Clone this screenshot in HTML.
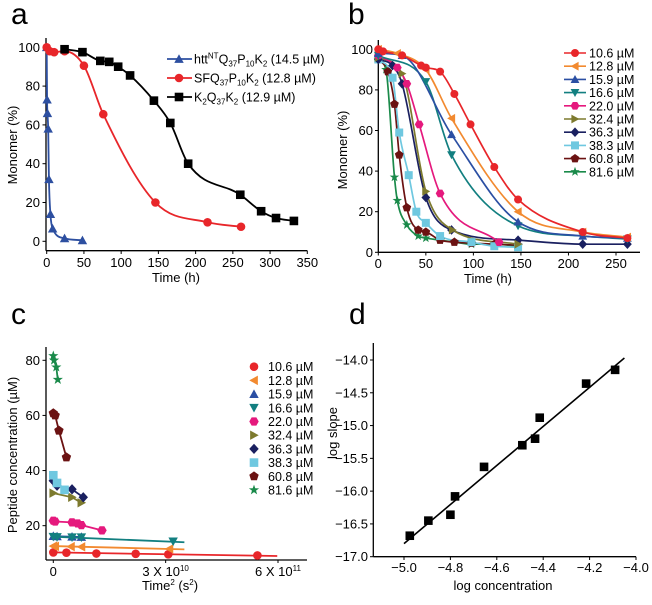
<!DOCTYPE html>
<html><head><meta charset="utf-8"><style>
body{margin:0;background:#fff;width:652px;height:600px;overflow:hidden}
svg{font-family:"Liberation Sans",sans-serif}
</style></head><body>
<svg id="fig" width="652" height="600" xmlns="http://www.w3.org/2000/svg"></svg>
<script>
// ---------- Panel a data ----------
const aBlueT=[0,0.5,1,2,3,5,8,24,48];
const aBlueV=[100,73,66,58,32,14,6.5,1.5,0.5];
const aRedT=[0,4,10,24,50,76,146,216,261];
const aRedV=[100,98,97.5,98,90.5,65.5,20,9.8,7.5];
const aBlackT=[24,48,72,84,96,112,144,166,190,260,288,308,332];
const aBlackV=[99,97.5,93,92.5,90,85.5,72.5,61,40,24,15.5,12,10.5];
const aXTicks=[0,50,100,150,200,250,300,350];
const aYTicks=[0,20,40,60,80,100];
// ---------- Panel b data ----------
const bLabels=["10.6 µM","12.8 µM","15.9 µM","16.6 µM","22.0 µM","32.4 µM","36.3 µM","38.3 µM","60.8 µM","81.6 µM"];
const bT0=[0,5,25,45,50,65,80,97,122,147,215,262];const bV0=[100,99,97,92,91,89,78,63,42,26,10,7];
const bT1=[0,20,50,77,147,215,262];const bV1=[100,98,90,66,20,10,7.5];
const bT2=[0,25,77,147,215,262];const bV2=[98,97,58,15,8,7];
const bT3=[0,50,77,147,215,262];const bV3=[97,84,48,13,8,6.5];
const bT4=[0,20,30,43,65,127];const bV4=[97,91,83,63,29,5];
const bT5=[0,25,50,78,147];const bV5=[96,88,30,11,4];
const bT6=[0,15,25,50,77,147,215,262];const bV6=[95,92,83,27,11,6,4,4];
const bT7=[0,15,22,32,40,50,65,98,122,147];const bV7=[95,86,59,38,20,14.5,8,5,3,2.5];
const bT8=[0,10,17,22,30,42,50,65,80,98,122,147];const bV8=[95,89,73,48,22,11,10,6,5,4.5,4,3.5];
const bT9=[0,8,17,20,30,42,50,65,80,98,122,147];const bV9=[95,90,37,25.5,13.5,8,7,6,5,4,4,3];
const bXTicks=[0,50,100,150,200,250];
const bYTicks=[0,20,40,60,80,100];
// ---------- Panel c data (x in units of 1e10 s^2) ----------
const cX0=[0,0.35,1.15,2.2,3.07,5.45];const cY0=[10.3,10.2,9.9,9.8,9.6,9.2];const cL0=[0,5.98,10.3,9.0];
const cX1=[0,0.05,0.47,0.75,3.1];const cY1=[12.6,12.5,12.4,12.3,11.6];const cL1=[0,3.5,12.6,11.4];
const cX2=[0,0.1,0.5,0.75];const cY2=[16.2,16.1,16.0,15.9];const cL2=[0,0.75,16.2,15.9];
const cX3=[0,0.1,0.5,0.75,3.2];const cY3=[16,15.9,15.8,15.8,14.3];const cL3=[0,3.5,16,14.0];
const cX4=[0,0.05,0.5,0.65,0.75,1.3];const cY4=[21.8,21.5,21.2,20.8,20.2,18.3];
const cX5=[0,0.5,0.75];const cY5=[31.8,30.3,28.3];
const cX6=[0,0.1,0.5,0.8];const cY6=[36.3,34.5,33.2,30.3];
const cX7=[0,0.1,0.3];const cY7=[38.3,35.5,33];
const cX8=[0,0.05,0.15,0.35];const cY8=[60.8,60,54.5,44.8];
const cX9=[0,0.02,0.08,0.12];const cY9=[81.6,80,77.5,73];
const cYTicks=[20,40,60,80];
const cXTicks=[0,3,6];
const cXTickLabels=["0","3 X 10","6 X 10"];const cXTickExp=["","10","11"];
// ---------- Panel d data ----------
const dX=[-4.975,-4.895,-4.80,-4.78,-4.655,-4.49,-4.435,-4.415,-4.215,-4.09];
const dY=[-16.68,-16.45,-16.36,-16.08,-15.63,-15.30,-15.20,-14.88,-14.36,-14.15];
const dFit=[-5.0,-4.05,-16.8,-13.97];
const dXTicks=[-5.0,-4.8,-4.6,-4.4,-4.2,-4.0];
const dYTicks=[-17.0,-16.5,-16.0,-15.5,-15.0,-14.5,-14.0];

const NS="http://www.w3.org/2000/svg";
const svg=document.getElementById('fig');
function el(tag,attrs,parent,txt){const e=document.createElementNS(NS,tag);for(const k in attrs)e.setAttribute(k,attrs[k]);if(txt!==undefined)e.textContent=txt;(parent||svg).appendChild(e);return e;}
function lin(d0,d1,r0,r1){return v=>r0+(v-d0)*(r1-r0)/(d1-d0);}
// monotone cubic (Fritsch-Carlson) through points sorted by x
function smooth(pts){
 const n=pts.length;if(n<2)return "";
 const dx=[],s=[];for(let i=0;i<n-1;i++){dx.push(pts[i+1][0]-pts[i][0]||1e-6);s.push((pts[i+1][1]-pts[i][1])/dx[i]);}
 const m=[s[0]];for(let i=1;i<n-1;i++){m.push(s[i-1]*s[i]<=0?0:(s[i-1]+s[i])/2);}m.push(s[n-2]);
 for(let i=0;i<n-1;i++){if(s[i]===0){m[i]=0;m[i+1]=0;continue;}const a=m[i]/s[i],b=m[i+1]/s[i],h=a*a+b*b;if(h>9){const t=3/Math.sqrt(h);m[i]=t*a*s[i];m[i+1]=t*b*s[i];}}
 let d="M"+pts[0][0]+","+pts[0][1];
 for(let i=0;i<n-1;i++){const h=dx[i]/3;d+=" C"+(pts[i][0]+h)+","+(pts[i][1]+m[i]*h)+" "+(pts[i+1][0]-h)+","+(pts[i+1][1]-m[i+1]*h)+" "+pts[i+1][0]+","+pts[i+1][1];}
 return d;}
function marker(g,shape,x,y,c,s){let e;
 const poly=(pts)=>el('polygon',{points:pts.map(p=>(x+p[0]*s)+","+(y+p[1]*s)).join(" "),fill:c},g);
 if(shape==='circle')e=el('circle',{cx:x,cy:y,r:s,fill:c},g);
 else if(shape==='square')e=el('rect',{x:x-s,y:y-s,width:2*s,height:2*s,fill:c},g);
 else if(shape==='up')e=poly([[0,-1.1],[1.1,0.9],[-1.1,0.9]]);
 else if(shape==='down')e=poly([[0,1.1],[1.1,-0.9],[-1.1,-0.9]]);
 else if(shape==='left')e=poly([[-1.1,0],[0.9,-1.1],[0.9,1.1]]);
 else if(shape==='right')e=poly([[1.1,0],[-0.9,-1.1],[-0.9,1.1]]);
 else if(shape==='diamond')e=poly([[0,-1.2],[1.1,0],[0,1.2],[-1.1,0]]);
 else if(shape==='hex')e=poly([[1.1,0],[0.55,-0.95],[-0.55,-0.95],[-1.1,0],[-0.55,0.95],[0.55,0.95]]);
 else if(shape==='pent'){const p=[];for(let i=0;i<5;i++){const a=-Math.PI/2+i*2*Math.PI/5;p.push([1.15*Math.cos(a),1.15*Math.sin(a)]);}e=poly(p);}
 else if(shape==='star'){const p=[];for(let i=0;i<10;i++){const a=-Math.PI/2+i*Math.PI/5,r=i%2?0.5:1.25;p.push([r*Math.cos(a),r*Math.sin(a)]);}e=poly(p);}
 return e;}
function axes(g,x0,x1,y0,y1){el('line',{x1:x0,y1:y0,x2:x0,y2:y1,stroke:'#000','stroke-width':1.3},g);el('line',{x1:x0,y1:y1,x2:x1,y2:y1,stroke:'#000','stroke-width':1.3},g);}
function txt(g,x,y,s,o){return el('text',Object.assign({x:x,y:y,'font-size':13},o||{}),g,s);}

// ================= Panel a =================
(function(){
 const g=el('g',{});
 const X=lin(0,350,46.7,307.3),Y=lin(0,100,241.3,47.3);
 txt(g,11,24,"a",{'font-size':30});
 axes(g,46,307.3,38,250.7);
 aXTicks.forEach(t=>{el('line',{x1:X(t),y1:250.7,x2:X(t),y2:254,stroke:'#000'},g);txt(g,X(t),267,String(t),{'text-anchor':'middle'});});
 aYTicks.forEach(t=>{el('line',{x1:42.5,y1:Y(t),x2:46,y2:Y(t),stroke:'#000'},g);txt(g,40,Y(t)+4.5,String(t),{'text-anchor':'end'});});
 txt(g,176,282,"Time (h)",{'text-anchor':'middle'});
 const yt=txt(g,0,0,"Monomer (%)",{'text-anchor':'middle',transform:'translate(17,145) rotate(-90)'});
 const ser=[[aBlueT,aBlueV,'#2d4fa0','up'],[aRedT,aRedV,'#e8262a','circle'],[aBlackT,aBlackV,'#000','square']];
 ser.forEach(s=>{const pts=s[0].map((t,i)=>[X(t),Y(s[1][i])]);el('path',{d:smooth(pts),fill:'none',stroke:s[2],'stroke-width':1.8},g);
  pts.forEach(p=>{const m=marker(g,s[3],p[0],p[1],s[2],4.3);});});
 ser.forEach((s,i)=>{const y=59+i*19;el('line',{x1:167,y1:y,x2:192,y2:y,stroke:s[2],'stroke-width':1.8},g);marker(g,s[3],179,y,s[2],4.3);
  const t=el('text',{x:194,y:y+4.5,'font-size':12.5},g);
  const add=(s,o)=>{el('tspan',o||{},t,s);};
  if(i===0){add("htt");add("NT",{dy:-5,'font-size':8});add("Q",{dy:5});add("37",{dy:3,'font-size':8});add("P",{dy:-3});add("10",{dy:3,'font-size':8});add("K",{dy:-3});add("2",{dy:3,'font-size':8});add(" (14.5 µM)",{dy:-3});}
  else if(i===1){add("SFQ");add("37",{dy:3,'font-size':8});add("P",{dy:-3});add("10",{dy:3,'font-size':8});add("K",{dy:-3});add("2",{dy:3,'font-size':8});add(" (12.8 µM)",{dy:-3});}
  else {add("K");add("2",{dy:3,'font-size':8});add("Q",{dy:-3});add("37",{dy:3,'font-size':8});add("K",{dy:-3});add("2",{dy:3,'font-size':8});add(" (12.9 µM)",{dy:-3});}
 });
})();

// ================= Panel b =================
const bColors=['#e8262a','#f28a30','#2b4fa3','#127f80','#e5197d','#7d7a2e','#1a2060','#6fc8e0','#6b1212','#1a8a4a'];
const bShapes=['circle','left','up','down','hex','right','diamond','square','pent','star'];
(function(){
 const g=el('g',{});
 const X=lin(0,250,378.3,616),Y=lin(0,100,252.3,49.3);
 txt(g,348,24,"b",{'font-size':30});
 axes(g,378.3,640,40,252.3);
 bXTicks.forEach(t=>{el('line',{x1:X(t),y1:252.3,x2:X(t),y2:255.5,stroke:'#000'},g);txt(g,X(t),268,String(t),{'text-anchor':'middle'});});
 bYTicks.forEach(t=>{el('line',{x1:375,y1:Y(t),x2:378.3,y2:Y(t),stroke:'#000'},g);txt(g,373,Y(t)+4.5,String(t),{'text-anchor':'end'});});
 txt(g,488,283,"Time (h)",{'text-anchor':'middle'});
 txt(g,0,0,"Monomer (%)",{'text-anchor':'middle',transform:'translate(347,150) rotate(-90)'});
 const T=[bT0,bT1,bT2,bT3,bT4,bT5,bT6,bT7,bT8,bT9],V=[bV0,bV1,bV2,bV3,bV4,bV5,bV6,bV7,bV8,bV9];
 for(let i=9;i>=0;i--){const pts=T[i].map((t,j)=>[X(t),Y(V[i][j])]);el('path',{d:smooth(pts),fill:'none',stroke:bColors[i],'stroke-width':1.7},g);}
 for(let i=9;i>=0;i--){T[i].forEach((t,j)=>{const m=marker(g,bShapes[i],X(t),Y(V[i][j]),bColors[i],4);});}
 bLabels.forEach((l,i)=>{const y=53+i*13.2;el('line',{x1:564,y1:y,x2:586,y2:y,stroke:bColors[i],'stroke-width':1.6},g);marker(g,bShapes[i],575,y,bColors[i],4);
  const t=txt(g,589,y+4.5,l,{'font-size':12.5});});
})();

// ================= Panel c =================
(function(){
 const g=el('g',{});
 const X=lin(0,6,53.3,278),Y=lin(0,80,580.8,360.3);
 txt(g,11,324,"c",{'font-size':30});
 axes(g,46,307,347,560);
 cXTicks.forEach((t,i)=>{el('line',{x1:X(t),y1:560,x2:X(t),y2:563,stroke:'#000'},g);const tt=txt(g,X(t),576,cXTickLabels[i],{'text-anchor':'middle'});if(cXTickExp[i]){el('tspan',{dy:-5,'font-size':8},tt,cXTickExp[i]);}});
 cYTicks.forEach(t=>{el('line',{x1:42.5,y1:Y(t),x2:46,y2:Y(t),stroke:'#000'},g);txt(g,40,Y(t)+4.5,String(t),{'text-anchor':'end'});});
 const xt=txt(g,170,590,"Time",{'text-anchor':'middle'});el('tspan',{dy:-5,'font-size':8},xt,"2");el('tspan',{dy:5},xt," (s");el('tspan',{dy:-5,'font-size':8},xt,"2");el('tspan',{dy:5},xt,")");
 txt(g,0,0,"Peptide concentration (µM)",{'text-anchor':'middle',transform:'translate(17,455) rotate(-90)'});
 const CX=[cX0,cX1,cX2,cX3,cX4,cX5,cX6,cX7,cX8,cX9],CY=[cY0,cY1,cY2,cY3,cY4,cY5,cY6,cY7,cY8,cY9];const CL=[cL0,cL1,cL2,cL3];
 for(let i=0;i<10;i++){
  if(CL[i])el('line',{x1:X(CL[i][0]),y1:Y(CL[i][2]),x2:X(CL[i][1]),y2:Y(CL[i][3]),stroke:bColors[i],'stroke-width':1.8},g);
  else el('polyline',{points:CX[i].map((x,j)=>X(x)+","+Y(CY[i][j])).join(" "),fill:'none',stroke:bColors[i],'stroke-width':1.8},g);
  CX[i].forEach((x,j)=>{const m=marker(g,bShapes[i],X(x),Y(CY[i][j]),bColors[i],4.3);});
 }
 bLabels.forEach((l,i)=>{const y=366.7+i*13.7;marker(g,bShapes[i],254,y,bColors[i],4.3);
  const t=txt(g,268,y+4.5,l,{'font-size':12.5});});
})();

// ================= Panel d =================
(function(){
 const g=el('g',{});
 const X=lin(-5,-4,404,636),Y=lin(-14,-17,360,556.7);
 txt(g,349,324,"d",{'font-size':30});
 axes(g,373.3,636,343,556.7);
 dXTicks.forEach(t=>{el('line',{x1:X(t),y1:556.7,x2:X(t),y2:560,stroke:'#000'},g);txt(g,X(t),572,'\u2212'+Math.abs(t).toFixed(1),{'text-anchor':'middle'});});
 dYTicks.forEach(t=>{el('line',{x1:370,y1:Y(t),x2:373.3,y2:Y(t),stroke:'#000'},g);txt(g,368,Y(t)+4.5,'\u2212'+Math.abs(t).toFixed(1),{'text-anchor':'end'});});
 txt(g,503,590,"log concentration",{'text-anchor':'middle'});
 txt(g,0,0,"log slope",{'text-anchor':'middle',transform:'translate(337,433) rotate(-90)'});
 el('line',{x1:X(dFit[0]),y1:Y(dFit[2]),x2:X(dFit[1]),y2:Y(dFit[3]),stroke:'#000','stroke-width':1.6},g);
 dX.forEach((x,i)=>{const m=marker(g,'square',X(x),Y(dY[i]),'#000',4.3);});
})();
</script>
</body></html>
